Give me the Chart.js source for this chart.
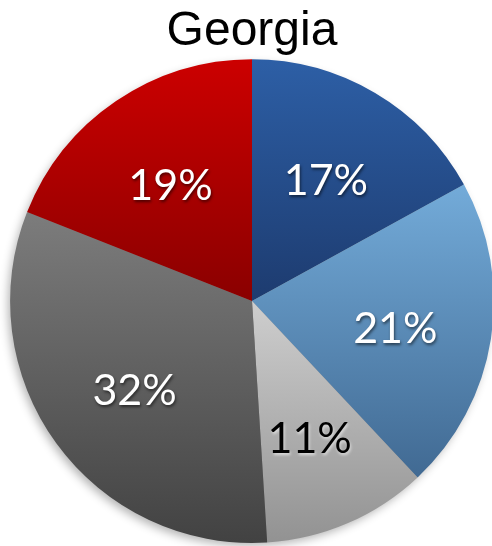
<!DOCTYPE html>
<html>
<head>
<meta charset="utf-8">
<script src="https://cdn.jsdelivr.net/npm/chart.js@4"></script>
<style>
  html, body { margin: 0; padding: 0; background: #fff; overflow: hidden; }
  #wrap { position: absolute; left: 0; top: 0; width: 506px; height: 546px; }
</style>
</head>
<body>
<div id="wrap"><canvas id="my-chart"></canvas></div>
<script>
// data
const title = 'Georgia';
const labels = ['Slice A', 'Slice B', 'Slice C', 'Slice D', 'Slice E'];
const values = [17, 21, 11, 32, 19];
const labelColors = ['#fff', '#fff', '#000', '#fff', '#fff'];

// vertical gradients per slice: [stop, colour] along the pie height
const gradStops = [
    [[0, '#2d5fa6'], [0.5, '#1d3b6f'], [1, '#1d3b6f']],
    [[0, '#74acda'], [0.25, '#74acda'], [0.86, '#416a93'], [1, '#416a93']],
    [[0, '#cecece'], [0.5, '#cecece'], [1, '#929292']],
    [[0, '#7c7c7c'], [0.32, '#7c7c7c'], [1, '#424242']],
    [[0, '#cc0000'], [0.5, '#8a0000'], [1, '#8a0000']]
];

function sliceFill(ctx) {
    const chart = ctx.chart;
    const area = chart.chartArea;
    if (!area) return '#888';
    const g = chart.ctx.createLinearGradient(0, area.top, 0, area.bottom);
    gradStops[ctx.dataIndex].forEach(s => g.addColorStop(s[0], s[1]));
    return g;
}

// soft shadow under the whole pie
const pieShadow = {
    id: 'pieShadow',
    beforeDatasetsDraw(chart) {
        const arc = chart.getDatasetMeta(0).data[0];
        if (!arc) return;
        const c = chart.ctx;
        c.save();
        c.shadowColor = 'rgba(0,0,0,0.3)';
        c.shadowBlur = 10;
        c.shadowOffsetX = -3;
        c.shadowOffsetY = 4;
        c.fillStyle = '#888';
        c.beginPath();
        c.arc(arc.x, arc.y, arc.outerRadius - 1, 0, Math.PI * 2);
        c.fill();
        c.restore();
    }
};

// percentage labels inside slices
const sliceLabels = {
    id: 'sliceLabels',
    afterDatasetsDraw(chart) {
        const c = chart.ctx;
        const total = values.reduce((a, b) => a + b, 0);
        chart.getDatasetMeta(0).data.forEach((arc, i) => {
            const mid = (arc.startAngle + arc.endAngle) / 2;
            const r = arc.outerRadius * 0.6;
            const x = arc.x + Math.cos(mid) * r;
            const y = arc.y + Math.sin(mid) * r + 5;
            c.save();
            c.font = '43px Lato';
            c.textAlign = 'center';
            c.textBaseline = 'middle';
            c.shadowColor = labelColors[i] === '#000' ? 'rgba(255,255,255,0.6)' : 'rgba(0,0,0,0.55)';
            c.shadowBlur = 3;
            c.shadowOffsetX = 1;
            c.shadowOffsetY = 2;
            c.fillStyle = labelColors[i];
            c.fillText(Math.round(values[i] / total * 100) + '%', x, y);
            c.restore();
        });
    }
};

const ctx = document.getElementById('my-chart').getContext('2d');
const chart = new Chart(ctx, {
    type: 'pie',
    data: {
        labels: labels,
        datasets: [{
            data: values,
            backgroundColor: sliceFill,
            borderWidth: 0
        }]
    },
    options: {
        responsive: true,
        maintainAspectRatio: false,
        animation: false,
        layout: { padding: { left: 10, right: 12, top: 0, bottom: 3 } },
        plugins: {
            legend: { display: false },
            tooltip: { enabled: false },
            title: {
                display: true,
                text: title,
                color: '#000',
                font: { family: 'Liberation Sans', size: 48, weight: 'normal', lineHeight: 1.15 },
                padding: { top: 4, bottom: 0 }
            }
        }
    },
    plugins: [pieShadow, sliceLabels]
});
</script>
</body>
</html>
